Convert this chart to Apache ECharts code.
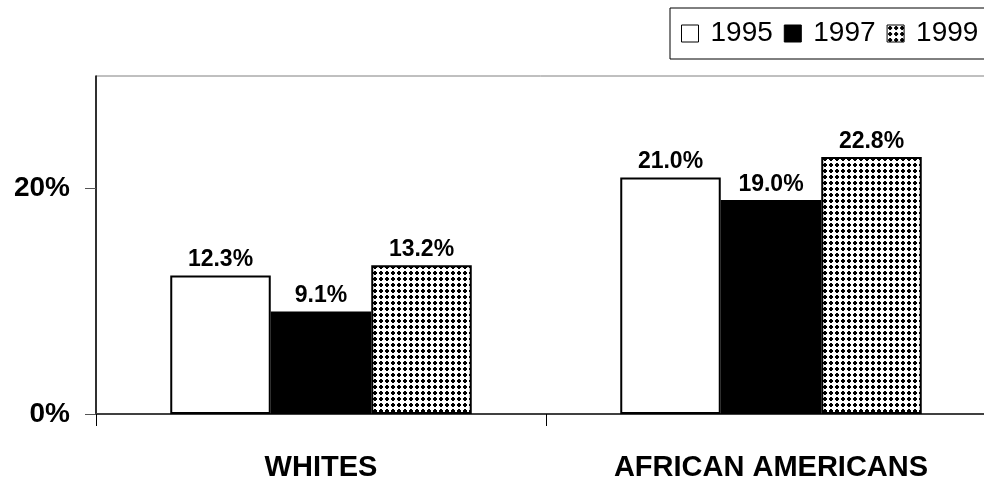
<!DOCTYPE html>
<html>
<head>
<meta charset="utf-8">
<script src="https://cdn.jsdelivr.net/npm/echarts@6/dist/echarts.min.js"></script>
<style>
  html, body { margin: 0; padding: 0; background: #fff; }
  #chart { width: 984px; height: 479px; }
</style>
</head>
<body>
<div id="chart"></div>
<script>
// Share of population (%) by group and survey year
const categories = ['WHITES', 'AFRICAN AMERICANS'];
const years = ['1995', '1997', '1999'];
const values1995 = [12.3, 21.0];
const values1997 = [9.1, 19.0];
const values1999 = [13.2, 22.8];
const yTickValues = [0, 20];

// Dotted fill used for the 1999 bars
function makeDotPattern() {
  const c = document.createElement('canvas');
  c.width = 6; c.height = 6;
  const ctx = c.getContext('2d');
  ctx.fillStyle = '#fff';
  ctx.fillRect(0, 0, 6, 6);
  ctx.fillStyle = '#000';
  ctx.fillRect(2, 1, 2, 1);
  ctx.fillRect(1, 2, 4, 2);
  ctx.fillRect(2, 4, 2, 1);
  return c;
}

const FONT = '"Liberation Sans", Arial, sans-serif';
const chart = echarts.init(document.getElementById('chart'), null, { renderer: 'canvas' });

const labelStyle = {
  show: true,
  position: 'top',
  distance: 4,
  fontFamily: FONT,
  fontWeight: 'bold',
  fontSize: 23,
  color: '#000',
  formatter: p => p.value.toFixed(1) + '%'
};

function barSeries(name, data, fill) {
  return {
    name: name,
    type: 'bar',
    data: data,
    barGap: '0%',
    barCategoryGap: '33%',
    itemStyle: { color: fill, borderColor: '#000', borderWidth: 2 },
    label: labelStyle
  };
}

chart.setOption({
  animation: false,
  backgroundColor: '#fff',
  grid: {
    left: 96, top: 76, width: 900, height: 338,
    outerBoundsMode: 'none',
    show: true, borderColor: '#808080', borderWidth: 1, backgroundColor: '#fff'
  },
  legend: {
    data: years,
    left: 670, top: 8, width: 600,
    orient: 'horizontal',
    icon: 'rect',
    itemWidth: 17, itemHeight: 17, itemGap: 11,
    borderColor: '#000', borderWidth: 1, borderRadius: 0,
    padding: [11, 30, 11, 11],
    itemStyle: { borderColor: '#000', borderWidth: 1 },
    textStyle: { fontFamily: FONT, fontSize: 28, lineHeight: 29, color: '#000', padding: [0, 0, 0, 7] }
  },
  xAxis: {
    type: 'category',
    data: categories,
    axisLine: { lineStyle: { color: '#404040', width: 2 } },
    axisTick: { show: true, length: 12, lineStyle: { color: '#000', width: 1 } },
    axisLabel: { margin: 39, fontFamily: FONT, fontWeight: 'bold', fontSize: 29, color: '#000' }
  },
  yAxis: {
    type: 'value',
    min: 0, max: 30, interval: 10,
    axisLine: { show: true, lineStyle: { color: '#000', width: 1.5 } },
    axisTick: { show: true, length: 11, customValues: yTickValues, lineStyle: { color: '#555', width: 1 } },
    splitLine: { show: false },
    axisLabel: {
      customValues: yTickValues,
      margin: 26,
      fontFamily: FONT, fontWeight: 'bold', fontSize: 28, color: '#000',
      formatter: '{value}%'
    }
  },
  series: [
    barSeries('1995', values1995, '#fff'),
    barSeries('1997', values1997, '#000'),
    barSeries('1999', values1999, { image: makeDotPattern(), repeat: 'repeat' })
  ]
});
</script>
</body>
</html>
